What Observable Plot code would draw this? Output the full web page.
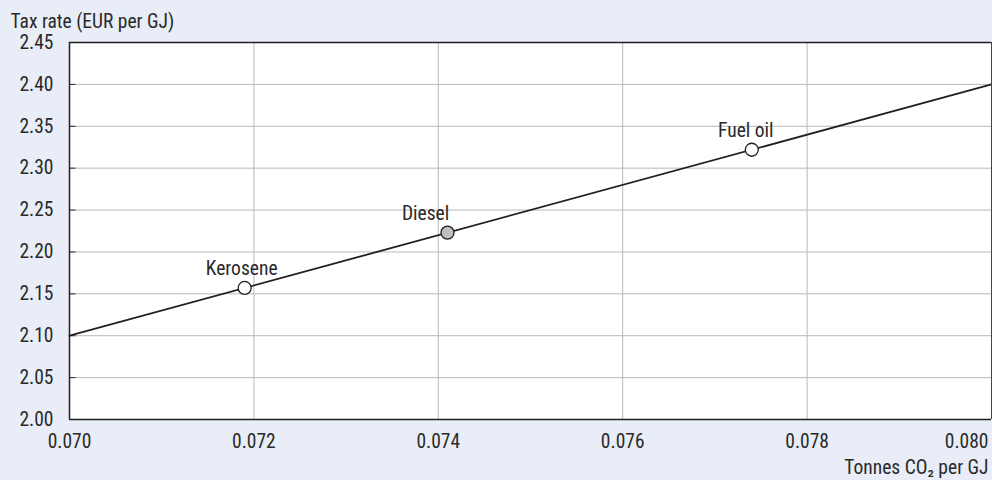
<!DOCTYPE html>
<html>
<head>
<meta charset="utf-8">
<script src="https://cdn.jsdelivr.net/npm/d3@7"></script>
<script src="https://cdn.jsdelivr.net/npm/@observablehq/plot@0.6"></script>
<style>
  html, body { margin: 0; padding: 0; background: #e8edf7; }
  #chart { width: 992px; height: 480px; }
</style>
</head>
<body>
<div id="chart"></div>
<script>
// Data
const fuels = ["Kerosene", "Diesel", "Fuel oil"];
const co2PerGJ = [0.0719, 0.0741, 0.0774];
const taxRate = [2.157, 2.223, 2.322];
const highlighted = [false, true, false];

const lineX = [0.070, 0.080];
const lineY = [2.10, 2.40];

const xTicks = [0.070, 0.072, 0.074, 0.076, 0.078, 0.080];
const yTicks = [2.00, 2.05, 2.10, 2.15, 2.20, 2.25, 2.30, 2.35, 2.40, 2.45];

// style-only: horizontal label nudges
const labelDx = [-3, -22, -6];

const points = fuels.map((f, i) => ({fuel: f, x: co2PerGJ[i], y: taxRate[i], hi: highlighted[i], dx: labelDx[i]}));
const line = lineX.map((x, i) => ({x, y: lineY[i]}));

const fmt2 = d3.format(".2f");
const fmt3 = d3.format(".3f");
const FS = 19.5;
const INK = "#2a2a2a";

const chart = Plot.plot({
  width: 992,
  height: 480,
  marginLeft: 69,
  marginRight: 1,
  marginTop: 42,
  marginBottom: 61,
  style: {background: "transparent", fontSize: FS + "px", color: INK, fontFamily: "'Liberation Sans Narrow', 'Roboto Condensed', Roboto, sans-serif"},
  x: {domain: [0.070, 0.080], axis: null},
  y: {domain: [2.00, 2.45], axis: null},
  marks: [
    Plot.frame({fill: "white"}),
    Plot.ruleY(yTicks.slice(1, -1), {stroke: "#b8b8b8", strokeWidth: 1}),
    Plot.ruleX(xTicks.slice(1, -1), {stroke: "#b8b8b8", strokeWidth: 1}),
    Plot.ruleY(yTicks.slice(1, -1), {x1: 0.070, x2: 0.07007, stroke: INK, strokeWidth: 1}),
    Plot.axisY({ticks: yTicks, tickSize: 0, tickPadding: 16, tickFormat: fmt2, label: null, fontSize: FS}),
    Plot.axisX({ticks: xTicks.slice(0, -1), tickSize: 0, tickPadding: 15, tickFormat: fmt3, label: null, fontSize: FS}),
    Plot.axisX({ticks: xTicks.slice(-1), tickSize: 0, tickPadding: 15, tickFormat: fmt3, label: null, textAnchor: "end", dx: -3, fontSize: FS}),
    Plot.line(line, {x: "x", y: "y", stroke: "#231f20", strokeWidth: 1.8}),
    Plot.dot(points, {x: "x", y: "y", r: 6.5, fill: d => d.hi ? "#bcc0c6" : "white", stroke: "#231f20", strokeWidth: 1.3}),
    ...points.map(p => Plot.text([p], {x: "x", y: "y", text: "fuel", dy: -19, dx: p.dx, fontSize: FS, fill: INK})),
    Plot.ruleX([0.070], {stroke: "#231f20", strokeWidth: 1.5}),
    Plot.ruleX([0.080], {stroke: "#444", strokeWidth: 1}),
    Plot.ruleY([2.00, 2.45], {stroke: "#231f20", strokeWidth: 1.5}),
    Plot.text(["Tax rate (EUR per GJ)"], {frameAnchor: "top-left", dx: -59, dy: -21, lineAnchor: "middle", textAnchor: "start", fontSize: FS, fill: INK}),
    Plot.text(["Tonnes CO₂ per GJ"], {frameAnchor: "bottom-right", dx: -3, dy: 48, lineAnchor: "middle", textAnchor: "end", fontSize: FS, fill: INK})
  ]
});
document.getElementById("chart").appendChild(chart);
</script>
</body>
</html>
